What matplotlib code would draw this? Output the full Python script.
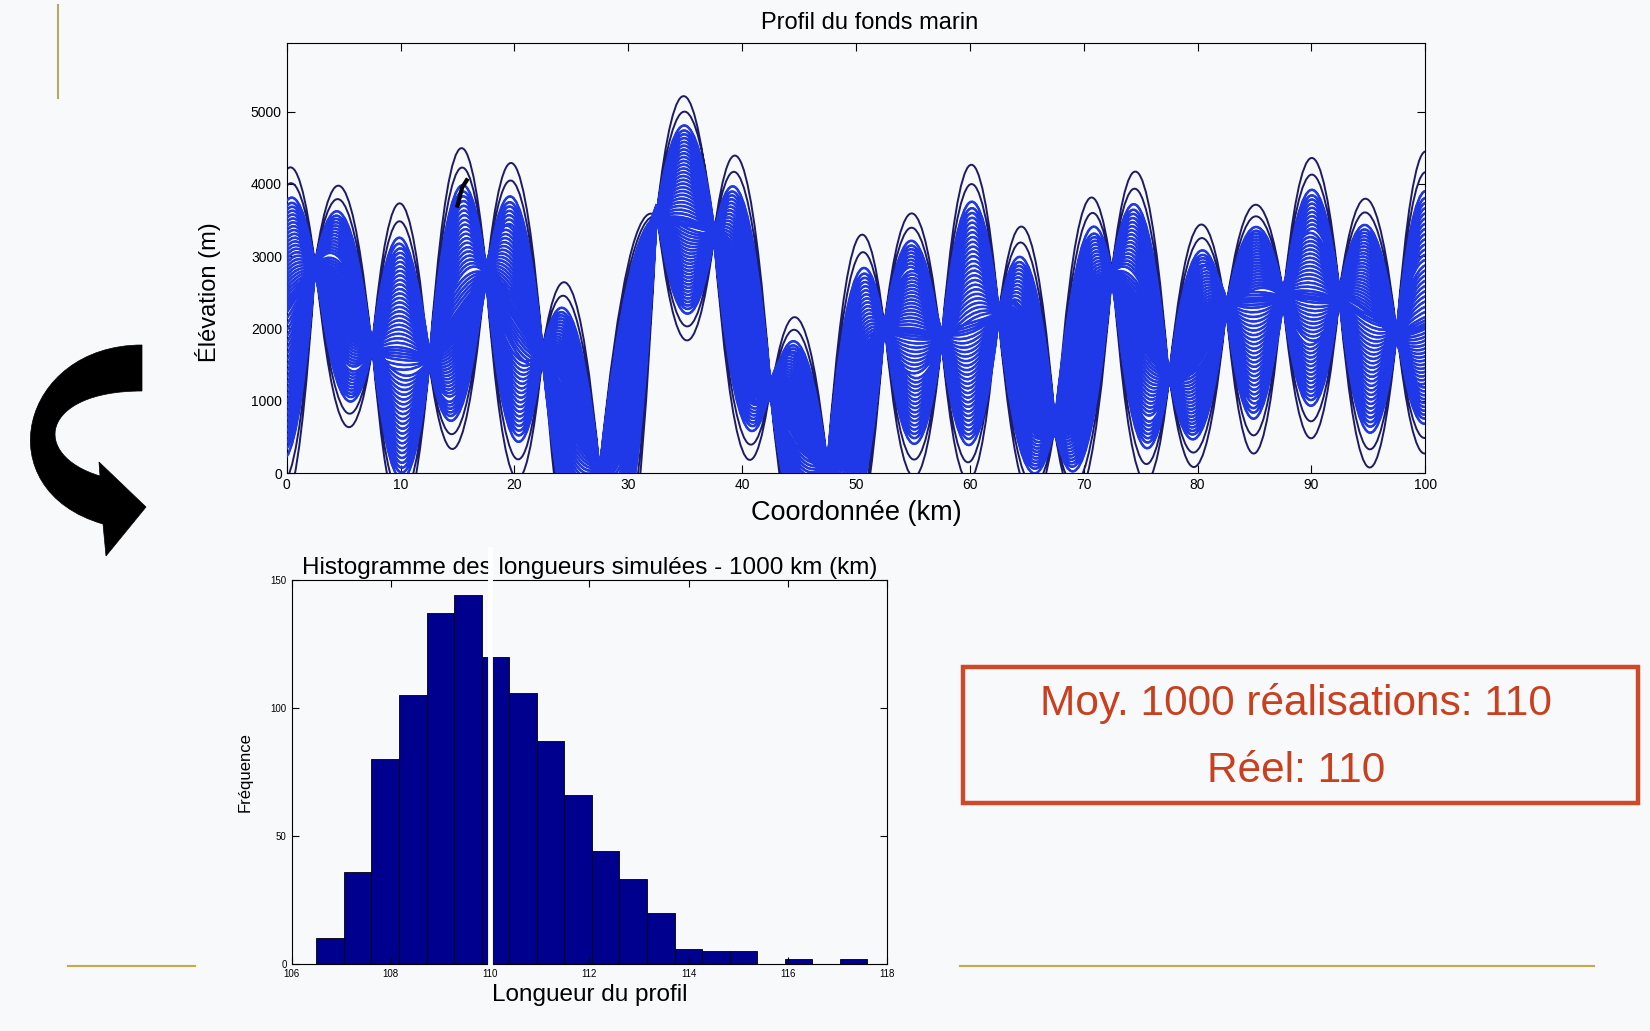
import matplotlib
matplotlib.use('Agg')
import matplotlib.pyplot as plt
from matplotlib.path import Path
from matplotlib.patches import PathPatch, Rectangle
from matplotlib.lines import Line2D

plt.rcParams['font.family'] = ['Liberation Sans', 'DejaVu Sans']

# profils simulés : points de conditionnement (tous les 5 km) et extrêmes des lobes
noeuds_km = [-2.5, 2.5, 7.5, 12.5, 17.5, 22.5, 27.5, 32.5, 37.5, 42.5, 47.5,
             52.5, 57.5, 62.5, 67.5, 72.5, 77.5, 82.5, 87.5, 92.5, 97.5, 102.5]
noeuds_m = [1800, 2860, 1750, 1560, 2760, 1650, 40, 3600, 3320, 1150, 100,
            2030, 1840, 2210, 640, 2760, 1330, 2300, 2440, 2440, 1930, 2200]
lobe_haut = [4200, 3920, 3730, 4450, 4260, 2530, 2900, 5210, 4260, 2120, 3200,
             3590, 4260, 3340, 3660, 4100, 3410, 3710, 4360, 3780, 4450]
lobe_bas = [-400, 690, -600, 390, -50, -1400, -1300, 1840, 320, -1200, -1000,
            -50, -100, -300, -200, -50, 110, 270, 480, 80, 270]
# position relative de chaque réalisation dans un lobe (1 = extrême haut, -1 = extrême bas)
ecarts_pos = [1.0, 0.88, 0.77, 0.73, 0.70, 0.67, 0.64, 0.61, 0.58, 0.55, 0.52,
              0.49, 0.46, 0.43, 0.40, 0.37, 0.34, 0.31, 0.28, 0.25, 0.22, 0.19,
              0.16, 0.13, 0.10, 0.07, 0.04, 0.02]
ecarts = ecarts_pos + [0.0] + [-v for v in reversed(ecarts_pos)]

# profil réel (seule partie visible)
vrai_km = [15.0, 15.4, 15.8]
vrai_m = [3700, 3950, 4050]

# histogramme des longueurs
classe_min = 106.5
classe_max = 117.6
frequences = [10, 36, 80, 105, 137, 144, 120, 106, 87, 66, 44, 33, 20, 6, 5, 5, 0, 2, 0, 2]
longueur_reelle = 110
longueur_moy = 110

fond = '#f8f9fb'
fig = plt.figure(figsize=(16.5, 10.31), dpi=100, facecolor=fond)

# ---------- profil du fond marin ----------
ax1 = fig.add_axes([0.1738, 0.5412, 0.690, 0.4171], facecolor=fond)
n = len(ecarts)
v_tous, c_tous, v_int, c_int = [], [], [], []
for i in range(n):
    for k in range(len(lobe_haut)):
        xa, xb = noeuds_km[k], noeuds_km[k + 1]
        ya = noeuds_m[k] + 120 * ecarts[(i + 29 * k) % n]
        yb = noeuds_m[k + 1] + 120 * ecarts[(i + 29 * (k + 1)) % n]
        f = ecarts[(i + 17 * k) % n]
        moy = (noeuds_m[k] + noeuds_m[k + 1]) / 2
        if f >= 0:
            lobe = moy + f * (lobe_haut[k] - moy)
        else:
            lobe = moy + f * (moy - lobe_bas[k])
        ctrl = 2 * lobe - (ya + yb) / 2
        pts = [(xa, ya), ((xa + xb) / 2, ctrl), (xb, yb)]
        codes = [Path.MOVETO, Path.CURVE3, Path.CURVE3]
        v_tous += pts
        c_tous += codes
        if abs(f) < 0.85:
            v_int += pts
            c_int += codes

ax1.add_patch(PathPatch(Path(v_tous, c_tous), fill=False, edgecolor='#1c1c66', lw=1.4, zorder=2))
ax1.add_patch(PathPatch(Path(v_int, c_int), fill=False, edgecolor='#1f38e8', lw=1.8, zorder=3))
ax1.plot(vrai_km, vrai_m, color='black', lw=3, zorder=4)

ax1.set_xlim(0, 100)
ax1.set_ylim(0, 5950)
ax1.set_xticks(range(0, 101, 10))
ax1.set_yticks(range(0, 5001, 1000))
ax1.tick_params(direction='in', top=True, right=True, length=6, labelsize=10)
ax1.set_title('Profil du fonds marin', fontsize=17, pad=10, x=0.512)
ax1.set_xlabel('Coordonnée (km)', fontsize=19.5, labelpad=6)
ax1.set_ylabel('Élévation (m)', fontsize=17)
ax1.yaxis.set_label_coords(-0.058, 0.42)

# ---------- histogramme ----------
ax2 = fig.add_axes([0.1767, 0.065, 0.361, 0.3725], facecolor=fond)
larg = (classe_max - classe_min) / len(frequences)
bords = [classe_min + j * larg for j in range(len(frequences))]
ax2.bar(bords, frequences, width=larg, align='edge', color='#00008f', edgecolor='black', lw=0.6)
ax2.plot([longueur_reelle, longueur_reelle], [0, 162], color='white', lw=3.5, clip_on=False, zorder=5)
ax2.set_xlim(106, 118)
ax2.set_ylim(0, 150)
ax2.set_xticks(range(106, 119, 2))
ax2.set_yticks([0, 50, 100, 150])
ax2.tick_params(direction='in', top=True, right=True, length=5, labelsize=7)
ax2.set_title('Histogramme des longueurs simulées - 1000 km (km)', fontsize=17.5, pad=4)
ax2.set_xlabel('Longueur du profil', fontsize=17.5, labelpad=4)
ax2.set_ylabel('Fréquence', fontsize=12, labelpad=13)

# ---------- encadré ----------
fig.add_artist(Rectangle((0.5836, 0.2211), 0.4091, 0.132, transform=fig.transFigure,
                         fill=False, edgecolor='#d0482a', lw=3.2))
fig.text(0.7857, 0.3181, f'Moy. 1000 réalisations: {longueur_moy}', ha='center', va='center',
         fontsize=30.5, color='#c8401e')
fig.text(0.7857, 0.2522, f'Réel: {longueur_reelle}', ha='center', va='center',
         fontsize=30.5, color='#c8401e')

# ---------- décor de la diapositive ----------
fig.add_artist(Line2D([0.0352, 0.0352], [0.905, 0.995], transform=fig.transFigure, color='#b8a868', lw=1.5))
fig.add_artist(Line2D([0.041, 0.118], [0.063, 0.063], transform=fig.transFigure, color='#c9a84a', lw=1.5))
fig.add_artist(Line2D([0.582, 0.966], [0.063, 0.063], transform=fig.transFigure, color='#c9a84a', lw=1.5))

# flèche courbe (pixels, origine en haut à gauche)
fleche_px = [(142, 345), (20, 345), (-15, 490), (103, 524),
             (106, 556), (146, 507), (99, 462), (100, 476),
             (30, 455), (40, 391), (142, 391), (142, 345)]
fleche_codes = [Path.MOVETO, Path.CURVE4, Path.CURVE4, Path.CURVE4,
                Path.LINETO, Path.LINETO, Path.LINETO, Path.LINETO,
                Path.CURVE4, Path.CURVE4, Path.CURVE4, Path.CLOSEPOLY]
fleche = Path([(x / 1650, 1 - y / 1031) for x, y in fleche_px], fleche_codes)
fig.add_artist(PathPatch(fleche, transform=fig.transFigure, facecolor='black', edgecolor='black', lw=0.5))

fig.savefig('out.png', dpi=100, facecolor=fond)
